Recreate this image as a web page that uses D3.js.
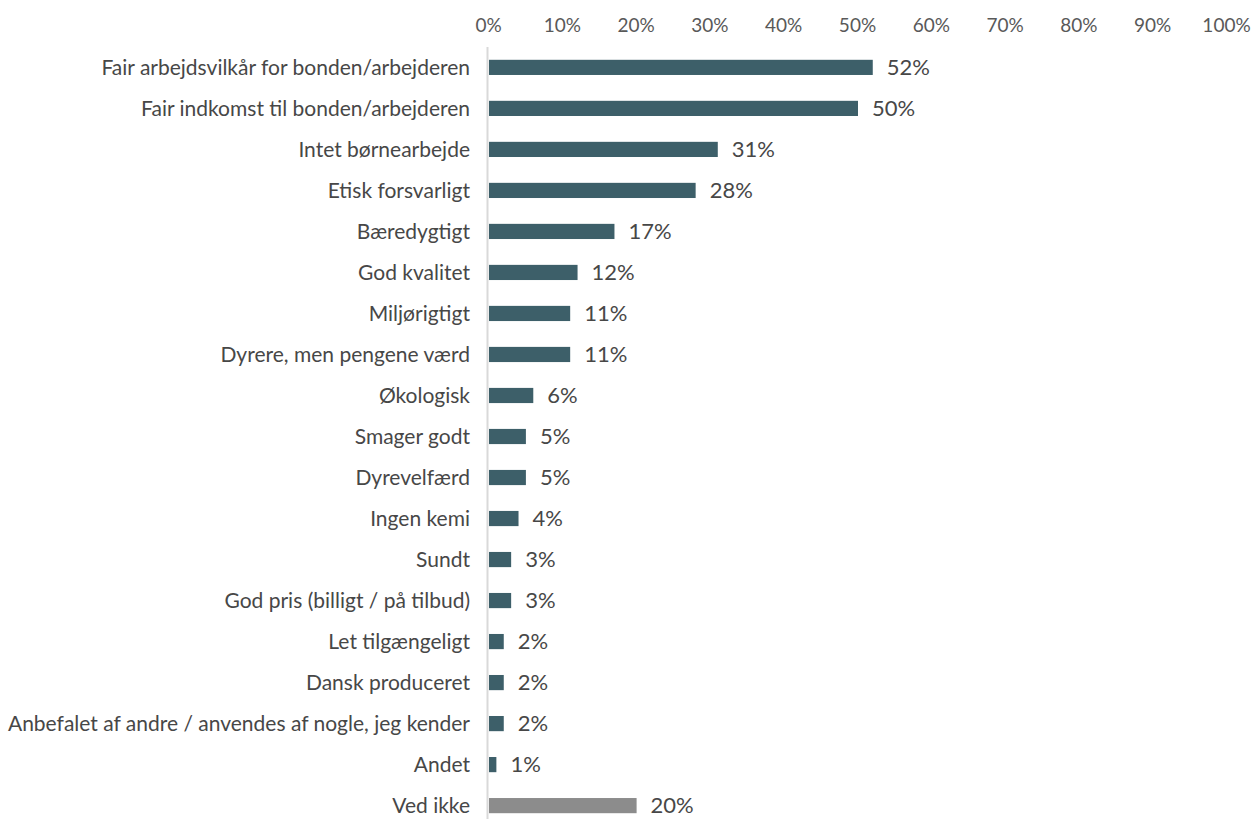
<!DOCTYPE html>
<html>
<head>
<meta charset="utf-8">
<script src="https://cdn.jsdelivr.net/npm/d3@7"></script>
<style>
  html, body { margin: 0; padding: 0; background: #ffffff; }
  svg text { font-family: Lato, "Open Sans", sans-serif; fill: #474747; }
</style>
</head>
<body>
<svg id="chart" width="1254" height="819"></svg>
<script>
// Reasons given for choosing the product (share of respondents)
const categories = [
  "Fair arbejdsvilkår for bonden/arbejderen",
  "Fair indkomst til bonden/arbejderen",
  "Intet børnearbejde",
  "Etisk forsvarligt",
  "Bæredygtigt",
  "God kvalitet",
  "Miljørigtigt",
  "Dyrere, men pengene værd",
  "Økologisk",
  "Smager godt",
  "Dyrevelfærd",
  "Ingen kemi",
  "Sundt",
  "God pris (billigt / på tilbud)",
  "Let tilgængeligt",
  "Dansk produceret",
  "Anbefalet af andre / anvendes af nogle, jeg kender",
  "Andet",
  "Ved ikke"
];
const values = [52, 50, 31, 28, 17, 12, 11, 11, 6, 5, 5, 4, 3, 3, 2, 2, 2, 1, 20];
const tickValues = [0, 10, 20, 30, 40, 50, 60, 70, 80, 90, 100];

const svg = d3.select("#chart");
const x0 = 488, x1 = 1226;
const x = d3.scaleLinear().domain([0, 100]).range([x0, x1]);
const y = d3.scaleBand().domain(categories).range([47.5, 825.5]).paddingInner(0.63).paddingOuter(0.3);

const barColor = "#3d5f69", otherColor = "#8c8c8c";

// Top axis labels
const axis = d3.axisTop(x).tickValues(tickValues).tickFormat(d => d + "%").tickSize(0).tickPadding(0);
const gAxis = svg.append("g").attr("transform", "translate(0,32)").call(axis);
gAxis.select(".domain").remove();
gAxis.selectAll("text").style("font-size", "19px").style("fill", "#595959")
  .style("font-family", "Lato, sans-serif");

// Category axis line
svg.append("line")
  .attr("x1", x0 - 0.5).attr("x2", x0 - 0.5)
  .attr("y1", 47).attr("y2", 819)
  .attr("stroke", "#d9d9d9").attr("stroke-width", 2);

const data = categories.map((c, i) => ({ c, v: values[i] }));

svg.append("g").selectAll("rect").data(data).join("rect")
  .attr("x", x(0) + 1)
  .attr("y", d => y(d.c))
  .attr("width", d => x(d.v) - x(0))
  .attr("height", y.bandwidth())
  .attr("fill", d => d.c === "Ved ikke" ? otherColor : barColor);

// Category labels
svg.append("g").selectAll("text").data(data).join("text")
  .attr("x", 470)
  .attr("y", d => y(d.c) + y.bandwidth() / 2)
  .attr("dy", "0.35em")
  .attr("text-anchor", "end")
  .style("font-size", "21px")
  .text(d => d.c);

// Value labels
svg.append("g").selectAll("text").data(data).join("text")
  .attr("x", d => x(d.v) + 15)
  .attr("y", d => y(d.c) + y.bandwidth() / 2)
  .attr("dy", "0.35em")
  .style("font-size", "22px")
  .text(d => d.v + "%");
</script>
</body>
</html>
